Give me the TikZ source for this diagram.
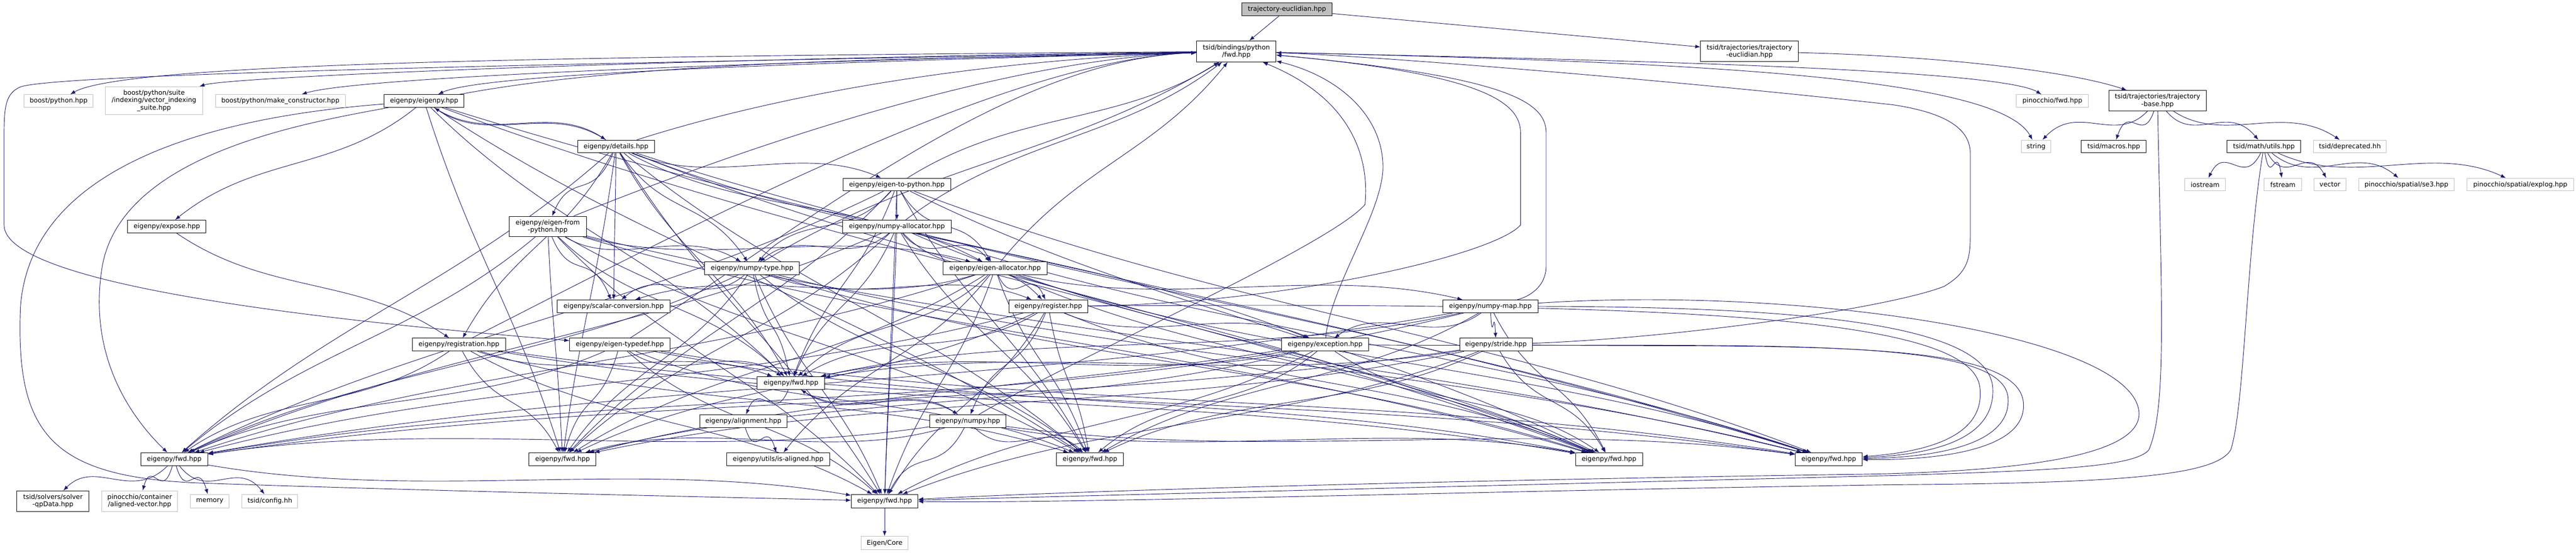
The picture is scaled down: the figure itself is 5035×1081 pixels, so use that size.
\documentclass[tikz,border=0pt]{standalone}
\usepackage{fontspec}
\setmainfont{DejaVu Sans}
\usetikzlibrary{arrows.meta,calc}
\definecolor{edgec}{RGB}{25,25,112}
\definecolor{gborder}{RGB}{191,191,191}
\definecolor{tfill}{RGB}{191,191,191}
\pgfdeclarelayer{bg}
\pgfdeclarelayer{edges}
\pgfsetlayers{bg,edges,main}
\newcommand\edgeD[2]{\draw[edge] (#1) .. controls ($(#1)!0.35!(#2)+(0,55)$) and ($(#2)!0.35!(#1)+(0,-55)$) .. (#2);}
\newcommand\edgeU[2]{\draw[edge] (#1) .. controls ($(#1)!0.35!(#2)+(0,-55)$) and ($(#2)!0.35!(#1)+(0,55)$) .. (#2);}
\newcommand\edgeL[2]{\draw[edge] (#1) .. controls ($(#1)!0.3!(#2)+(0,-60)$) and ($(#2)+(-450,15)$) .. (#2);}
\begin{document}
\begin{tikzpicture}[x=0.75pt,y=-0.75pt,
  font=\fontsize{9.6}{10.9}\selectfont,
  nd/.style 2 args={draw=black, fill=white, line width=0.75pt, inner sep=1pt, align=center,
     minimum width={(#1)*0.75pt}, minimum height={(#2)*0.75pt}},
  gr/.style={draw=gborder},
  edge/.style={draw=edgec, line width=0.7pt, -{Latex[length=7.5pt,width=5.5pt]}}]
\begin{pgfonlayer}{bg}
\fill[white] (0,0) rectangle (5035,1081);
\end{pgfonlayer}
\useasboundingbox (0,0) rectangle (5035,1081);

% ---------------- nodes ----------------
\node[nd={177}{25}, fill=tfill] (te) at (2515.5,18.5) {trajectory-euclidian.hpp};
\node[nd={155}{41}] (bpf) at (2416.5,100.5) {tsid/bindings/python\\/fwd.hpp};
\node[nd={191}{40}] (tte) at (3419.5,100.5) {tsid/trajectories/trajectory\\-euclidian.hpp};
\node[nd={135}{25},gr] (bp) at (114.5,197.5) {boost/python.hpp};
\node[nd={191}{55},gr] (vis) at (301,197) {boost/python/suite\\/indexing/vector\_indexing\\\_suite.hpp};
\node[nd={254}{25},gr] (mc) at (548,197.5) {boost/python/make\_constructor.hpp};
\node[nd={156}{25}] (eigenpy) at (829,197.5) {eigenpy/eigenpy.hpp};
\node[nd={141}{25},gr] (pinfwd) at (4011.5,197.5) {pinocchio/fwd.hpp};
\node[nd={190}{40}] (tb) at (4217,197) {tsid/trajectories/trajectory\\-base.hpp};
\node[nd={150}{25}] (details) at (1204,286.5) {eigenpy/details.hpp};
\node[nd={58}{25},gr] (string) at (3979.5,286.5) {string};
\node[nd={127}{25}] (macros) at (4131.5,286.5) {tsid/macros.hpp};
\node[nd={144}{25}] (utils) at (4425,286.5) {tsid/math/utils.hpp};
\node[nd={142}{25},gr] (deprecated) at (4593,286.5) {tsid/deprecated.hh};
\node[nd={80}{25},gr] (iostream) at (4310,361) {iostream};
\node[nd={73}{25},gr] (fstream) at (4462,361) {fstream};
\node[nd={62}{25},gr] (vector) at (4554,361) {vector};
\node[nd={187}{25},gr] (se3) at (4703.5,361) {pinocchio/spatial/se3.hpp};
\node[nd={209}{25},gr] (explog) at (4926,361) {pinocchio/spatial/explog.hpp};
\node[nd={210}{25}] (e2p) at (1753,361) {eigenpy/eigen-to-python.hpp};
\node[nd={153}{25}] (expose) at (326,443) {eigenpy/expose.hpp};
\node[nd={151}{40}] (efp) at (1070.5,443) {eigenpy/eigen-from\\-python.hpp};
\node[nd={212}{25}] (npalloc) at (1753,443) {eigenpy/numpy-allocator.hpp};
\node[nd={185}{25}] (nptype) at (1470,525) {eigenpy/numpy-type.hpp};
\node[nd={203}{25}] (ealloc) at (1945,525) {eigenpy/eigen-allocator.hpp};
\node[nd={220}{25}] (scalar) at (1199.5,599) {eigenpy/scalar-conversion.hpp};
\node[nd={154}{25}] (register) at (2049,599) {eigenpy/register.hpp};
\node[nd={186}{25}] (npmap) at (2913,599) {eigenpy/numpy-map.hpp};
\node[nd={182}{25}] (registration) at (897,674) {eigenpy/registration.hpp};
\node[nd={196}{25}] (typedef) at (1211.5,674) {eigenpy/eigen-typedef.hpp};
\node[nd={171}{25}] (exception) at (2590,674) {eigenpy/exception.hpp};
\node[nd={142}{25}] (stride) at (2924,674) {eigenpy/stride.hpp};
\node[nd={132}{25}] (fwdC) at (1546,749) {eigenpy/fwd.hpp};
\node[nd={171}{25}] (alignment) at (1453,823.5) {eigenpy/alignment.hpp};
\node[nd={149}{25}] (numpy) at (1891.5,823.5) {eigenpy/numpy.hpp};
\node[nd={131}{25}] (fwdA) at (340.5,898) {eigenpy/fwd.hpp};
\node[nd={131}{25}] (fwdB) at (1099.5,898) {eigenpy/fwd.hpp};
\node[nd={202}{25}] (isaligned) at (1521,898) {eigenpy/utils/is-aligned.hpp};
\node[nd={131}{25}] (fwdD) at (2130.5,898) {eigenpy/fwd.hpp};
\node[nd={131}{25}] (fwdF) at (3145,898) {eigenpy/fwd.hpp};
\node[nd={131}{25}] (fwdG) at (3574.5,898) {eigenpy/fwd.hpp};
\node[nd={141}{40}] (qpdata) at (103.5,980) {tsid/solvers/solver\\-qpData.hpp};
\node[nd={148}{40},gr] (alignedvec) at (273,980) {pinocchio/container\\/aligned-vector.hpp};
\node[nd={76}{26},gr] (memory) at (410,980) {memory};
\node[nd={109}{26},gr] (config) at (527.5,980) {tsid/config.hh};
\node[nd={130}{26}] (fwdE) at (1729,980) {eigenpy/fwd.hpp};
\node[nd={92}{26},gr] (core) at (1729,1062) {Eigen/Core};

% ---------------- edges ----------------
\begin{pgfonlayer}{edges}
\draw[edge] (te) -- (bpf);
\draw[edge] (te) -- (tte);
\draw[edge] (tte) .. controls (3800,110) and (4050,140) .. (tb);
% tsid/bindings/python/fwd.hpp
\draw[edge] (bpf) .. controls (1200,110) and (250,120) .. (bp);
\draw[edge] (bpf) .. controls (1300,115) and (450,150) .. (vis);
\draw[edge] (bpf) .. controls (1500,120) and (700,150) .. (mc);
\draw[edge] (bpf) .. controls (1700,120) and (950,140) .. (eigenpy);
\draw[edge] (bpf) .. controls (3000,115) and (3900,130) .. (pinfwd);
\draw[edge] (bpf) .. controls (3200,120) and (3900,140) .. (string);
\draw[edge] (bpf) .. controls (1500,118) and (120,140) .. (40,170)
   .. controls (5,185) and (8,220) .. (8,300) -- (8,440)
   .. controls (8,520) and (300,600) .. (typedef);
% trajectory-base and utils
\edgeD{tb}{string}
\edgeD{tb}{macros}
\edgeD{tb}{utils}
\edgeD{tb}{deprecated}
\foreach \t in {iostream,fstream,vector,se3,explog} {\edgeD{utils}{\t}}
\draw[edge] (tb) .. controls (4225,600) and (4235,800) .. (4200,880)
   .. controls (4170,915) and (4000,920) .. (3700,930)
   .. controls (2900,950) and (2100,970) .. (fwdE);
\draw[edge] (utils) .. controls (4390,500) and (4387,800) .. (4360,880)
   .. controls (4330,930) and (4150,945) .. (3700,948)
   .. controls (2900,960) and (2100,985) .. (fwdE);
% tsid fwd A and E
\foreach \t in {qpdata,alignedvec,memory,config,fwdE} {\edgeD{fwdA}{\t}}
\draw[edge] (fwdE) -- (core);
% eigenpy structure
\edgeD{eigenpy}{expose}
\edgeD{eigenpy}{details}
\edgeU{details}{eigenpy}
\foreach \t in {efp,e2p,scalar,nptype,registration,exception,ealloc} {\edgeD{details}{\t}}
\foreach \t in {scalar,ealloc,nptype} {\edgeD{efp}{\t}}
\foreach \t in {npalloc,nptype,ealloc} {\edgeD{e2p}{\t}}
\foreach \t in {ealloc,nptype,register} {\edgeD{npalloc}{\t}}
\foreach \t in {scalar,register} {\edgeD{nptype}{\t}}
\foreach \t in {npmap,register,scalar,isaligned} {\edgeD{ealloc}{\t}}
\foreach \t in {numpy,exception} {\edgeD{register}{\t}}
\foreach \t in {exception,stride} {\edgeD{npmap}{\t}}
\edgeD{expose}{registration}
\edgeD{fwdC}{numpy}
\edgeD{fwdC}{alignment}
\edgeD{alignment}{isaligned}
% includes of eigenpy/fwd.hpp
\foreach \t in {fwdB,fwdC,fwdD,fwdF,fwdG} {\edgeD{eigenpy}{\t}}
\draw[edge] (eigenpy) .. controls (600,240) and (240,300) .. (200,520) .. controls (170,700) and (260,820) .. (fwdA);
\draw[edge] (eigenpy) .. controls (400,230) and (60,330) .. (40,600)
   .. controls (30,850) and (100,935) .. (400,945)
   .. controls (900,962) and (1400,972) .. (fwdE);
\foreach \s in {details,efp,e2p,npalloc,nptype,ealloc,registration,typedef} {
  \foreach \t in {fwdA,fwdB,fwdC,fwdD,fwdE,fwdF,fwdG} {\edgeD{\s}{\t}}
}
\foreach \s in {register,exception,stride} {
  \foreach \t in {fwdA,fwdB,fwdC,fwdD,fwdE,fwdF} {\edgeD{\s}{\t}}
}
\foreach \t in {fwdA,fwdB,fwdC,fwdD,fwdF} {\edgeD{npmap}{\t}}
\foreach \t in {fwdA,fwdB,fwdD,fwdE,fwdF,fwdG} {\edgeD{numpy}{\t}}
\edgeU{numpy}{fwdC}
% back to tsid/bindings/python/fwd.hpp
\foreach \s in {eigenpy,details,efp,registration,typedef} {\edgeL{\s}{bpf}}
\foreach \s in {e2p,npalloc,nptype,ealloc} {\edgeU{\s}{bpf}}
\draw[edge] (stride) .. controls (3300,660) and (3700,600) .. (3800,560)
   .. controls (3851,530) and (3851,500) .. (3851,450) -- (3851,300)
   .. controls (3851,250) and (3800,220) .. (3700,205)
   .. controls (3300,160) and (2700,110) .. (bpf);
\draw[edge] (npmap) .. controls (2990,580) and (3022,560) .. (3022,520) -- (3022,260)
   .. controls (3022,200) and (2950,150) .. (bpf);
\draw[edge] (register) .. controls (2500,595) and (2920,500) .. (2972,440) -- (2972,260)
   .. controls (2972,200) and (2900,145) .. (bpf);
\draw[edge] (exception) .. controls (2600,560) and (2700,420) .. (2703,330)
   .. controls (2705,230) and (2620,150) .. (bpf);
\draw[edge] (numpy) .. controls (2100,700) and (2600,480) .. (2668,400)
   .. controls (2675,330) and (2660,200) .. (bpf);
% loops round the right side
\draw[edge] (register) .. controls (3300,590) and (3860,620) .. (3870,760) .. controls (3880,860) and (3750,885) .. (fwdG);
\draw[edge] (npmap) .. controls (3500,600) and (3890,630) .. (3895,760) .. controls (3900,870) and (3750,890) .. (fwdG);
\draw[edge] (exception) .. controls (3400,680) and (3920,650) .. (3925,780) .. controls (3930,880) and (3750,895) .. (fwdG);
\draw[edge] (stride) .. controls (3500,680) and (3950,660) .. (3955,790) .. controls (3960,890) and (3750,900) .. (fwdG);
\draw[edge] (npmap) .. controls (3500,560) and (4150,650) .. (4180,800)
   .. controls (4200,900) and (3900,925) .. (3600,928)
   .. controls (2800,940) and (2100,960) .. (fwdE);
\end{pgfonlayer}
\end{tikzpicture}
\end{document}
